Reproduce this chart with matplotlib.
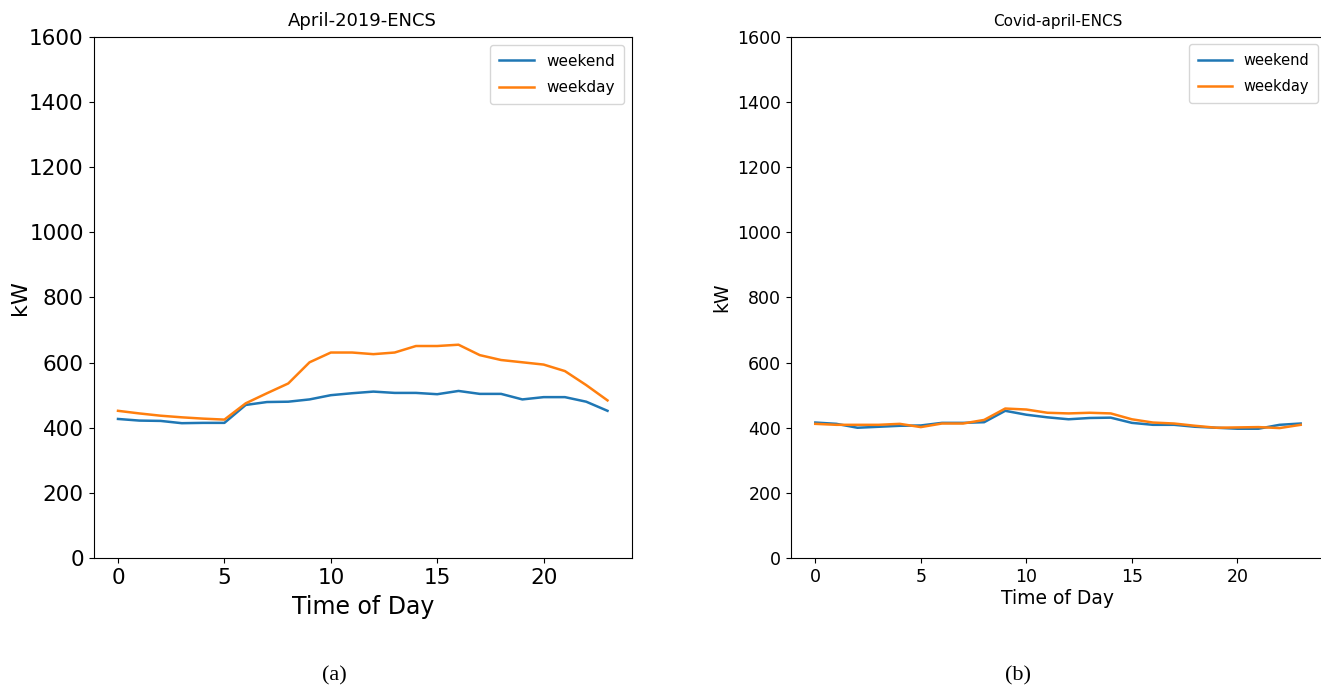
import numpy as np
import matplotlib.pyplot as plt

hours = np.arange(24)

# April 2019, ENCS building (kW)
apr2019_weekend = [427, 422, 421, 414, 415, 415, 470, 479, 480, 487, 500, 506,
                   511, 507, 507, 503, 513, 504, 504, 487, 494, 494, 480, 452]
apr2019_weekday = [452, 444, 437, 432, 428, 425, 475, 506, 536, 601, 631, 631,
                   626, 631, 651, 651, 655, 623, 608, 601, 594, 574, 531, 484]

# April 2020 (Covid), ENCS building (kW)
covid_weekend = [416, 412, 400, 403, 406, 407, 415, 415, 417, 452, 440, 432,
                 426, 430, 431, 415, 409, 409, 403, 400, 397, 397, 409, 413]
covid_weekday = [412, 409, 409, 409, 412, 402, 413, 413, 424, 459, 456, 446,
                 444, 446, 444, 426, 416, 413, 406, 400, 401, 402, 399, 409]


def plot_panel(ax, weekend, weekday, title, sizes, xpad):
    tick_size, label_size, legend_size, title_size = sizes
    ax.plot(hours, weekend, color='#1f77b4', lw=1.8, label='weekend')
    ax.plot(hours, weekday, color='#ff7f0e', lw=1.8, label='weekday')
    ax.set_ylim(0, 1600)
    ax.set_xticks([0, 5, 10, 15, 20])
    ax.set_title(title, fontsize=title_size, pad=8)
    ax.set_xlabel('Time of Day', fontsize=label_size, labelpad=xpad)
    ax.set_ylabel('kW', fontsize=label_size)
    ax.tick_params(labelsize=tick_size)
    ax.legend(loc='upper right', fontsize=legend_size, labelspacing=0.75,
              borderpad=0.6, handlelength=2.3)
    return ax


fig = plt.figure(figsize=(13.21, 6.9), dpi=100)
ax_a = fig.add_axes([0.0708, 0.1913, 0.4076, 0.7551])
ax_b = fig.add_axes([0.5988, 0.1913, 0.4042, 0.7551])

plot_panel(ax_a, apr2019_weekend, apr2019_weekday, 'April-2019-ENCS', (15.5, 17, 11, 13), 5)
plot_panel(ax_b, covid_weekend, covid_weekday, 'Covid-april-ENCS', (12.5, 13.5, 10.5, 11), 2)

# panel (a) y label sits close to the tick labels
ax_a.set_ylabel('kW', fontsize=16)
ax_a.yaxis.set_label_coords(-0.118, 0.5)
ax_b.spines['right'].set_visible(False)

fig.text(0.2535, 0.02, '(a)', ha='center', va='center', family='Liberation Serif', fontsize=16)
fig.text(0.7705, 0.02, '(b)', ha='center', va='center', family='Liberation Serif', fontsize=16)

fig.savefig('out.png', dpi=100)
